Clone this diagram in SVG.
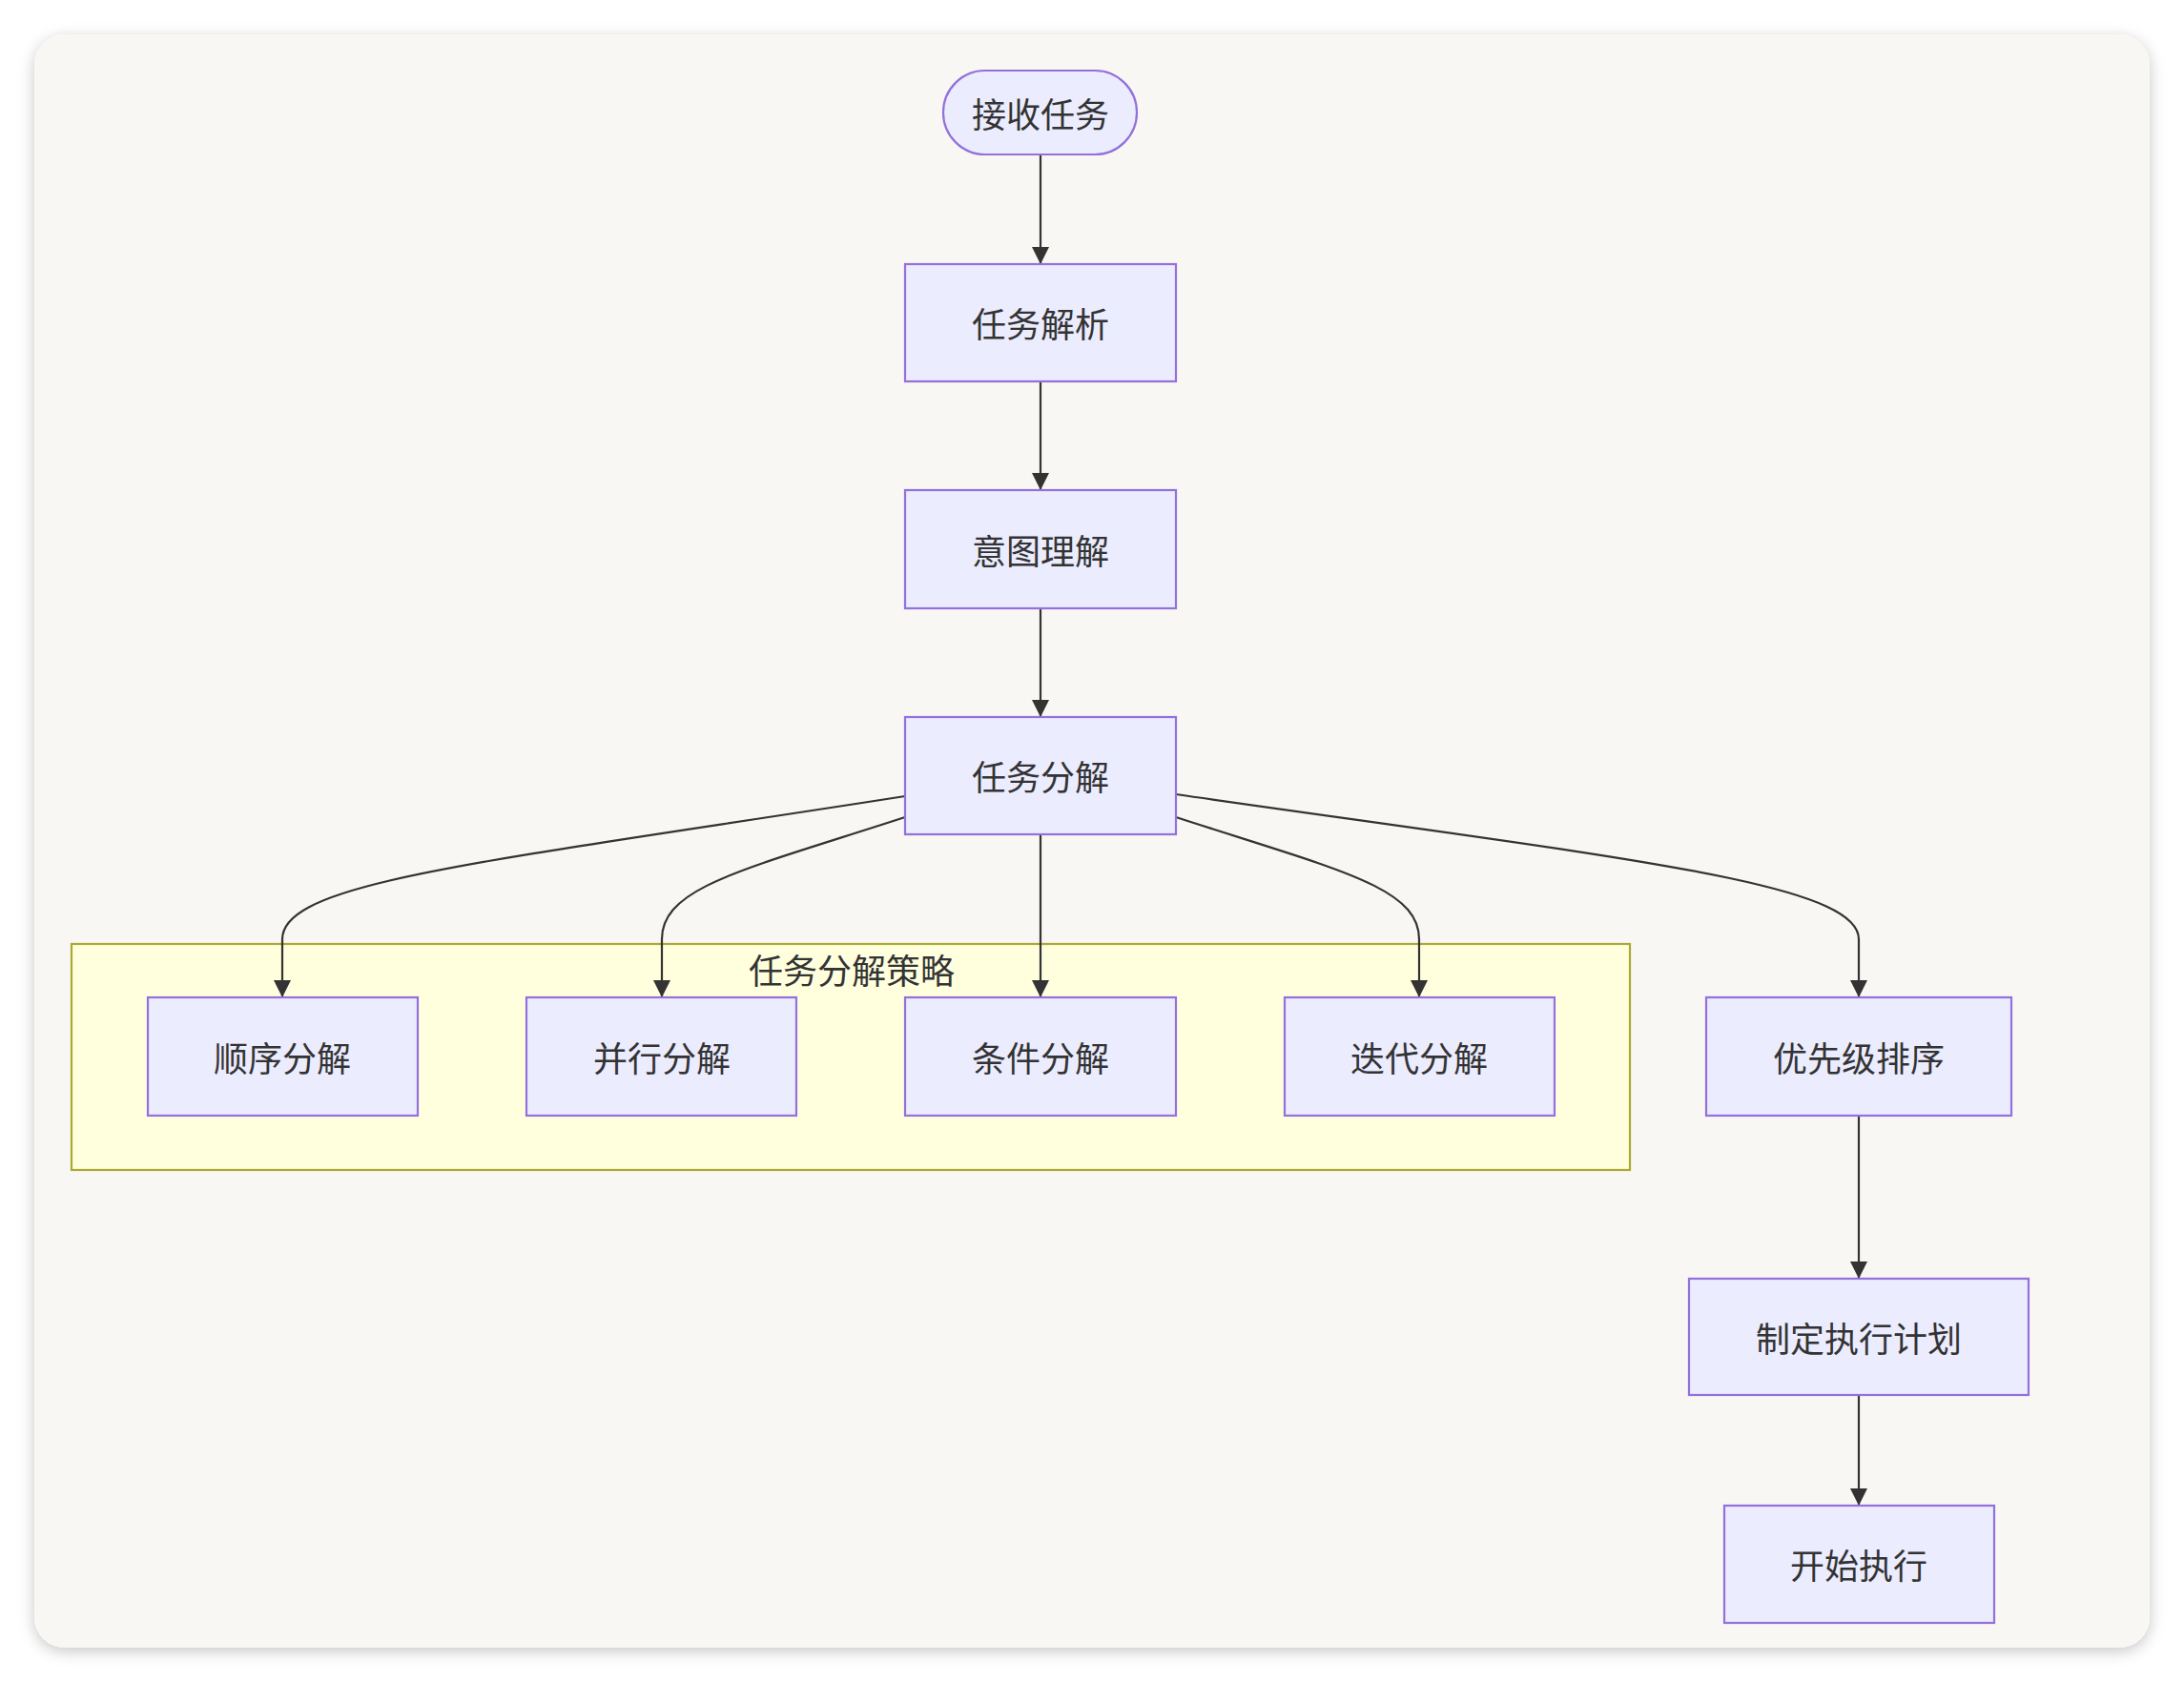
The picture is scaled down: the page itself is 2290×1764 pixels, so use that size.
<svg xmlns="http://www.w3.org/2000/svg" width="2290" height="1764" viewBox="0 0 2290 1764">
<defs>
<filter id="shadow" x="-5%" y="-5%" width="110%" height="110%">
<feDropShadow dx="0" dy="4" stdDeviation="8" flood-color="#000" flood-opacity="0.22"/>
</filter>
<marker id="arrow" markerUnits="userSpaceOnUse" markerWidth="18" markerHeight="18" refX="18" refY="9" orient="auto">
<path d="M0,0 L18,9 L0,18 z" fill="#333333"/>
</marker>
</defs>
<style>
.node rect{fill:#ECECFF;stroke:#9370DB;stroke-width:2.2}
.label{font-family:"Noto Sans CJK SC","Noto Sans",sans-serif;font-size:36px;fill:#333333;text-anchor:middle;dominant-baseline:central}
.edge{fill:none;stroke:#333333;stroke-width:2.2;marker-end:url(#arrow)}
.cluster rect{fill:#FFFFDE;stroke:#AAAA33;stroke-width:2.2}
</style>
<rect width="2290" height="1764" fill="#FFFFFF"/>
<rect x="36" y="36" width="2218" height="1692" rx="32" fill="#F8F7F3" filter="url(#shadow)"/>

<g id="cluster-strategy" class="cluster">
<rect x="75" y="990" width="1634" height="237"/>
<text class="label" x="893" y="1016">任务分解策略</text>
</g>

<g id="connectors">
<path class="edge" d="M1091,162 L1091,277"/>
<path class="edge" d="M1091,400 L1091,514"/>
<path class="edge" d="M1091,638 L1091,752"/>
<path class="edge" d="M949,835 C500,905 296,925 296,985 L296,1046"/>
<path class="edge" d="M949,857 C780,912 694,930 694,985 L694,1046"/>
<path class="edge" d="M1091,875 L1091,1046"/>
<path class="edge" d="M1233,857 C1402,912 1488,930 1488,985 L1488,1046"/>
<path class="edge" d="M1233,833 C1700,900 1949,925 1949,985 L1949,1046"/>
<path class="edge" d="M1949,1170 L1949,1341"/>
<path class="edge" d="M1949,1463 L1949,1579"/>
</g>

<g id="node-receive" class="node">
<rect x="989" y="74" width="203" height="88" rx="44" ry="44"/>
<text class="label" x="1091" y="118">接收任务</text>
</g>
<g id="node-parse" class="node">
<rect x="949" y="277" width="284" height="123"/>
<text class="label" x="1091" y="338">任务解析</text>
</g>
<g id="node-intent" class="node">
<rect x="949" y="514" width="284" height="124"/>
<text class="label" x="1091" y="576">意图理解</text>
</g>
<g id="node-decompose" class="node">
<rect x="949" y="752" width="284" height="123"/>
<text class="label" x="1091" y="813">任务分解</text>
</g>
<g id="node-seq" class="node">
<rect x="155" y="1046" width="283" height="124"/>
<text class="label" x="296" y="1108">顺序分解</text>
</g>
<g id="node-par" class="node">
<rect x="552" y="1046" width="283" height="124"/>
<text class="label" x="694" y="1108">并行分解</text>
</g>
<g id="node-cond" class="node">
<rect x="949" y="1046" width="284" height="124"/>
<text class="label" x="1091" y="1108">条件分解</text>
</g>
<g id="node-iter" class="node">
<rect x="1347" y="1046" width="283" height="124"/>
<text class="label" x="1488" y="1108">迭代分解</text>
</g>
<g id="node-priority" class="node">
<rect x="1789" y="1046" width="320" height="124"/>
<text class="label" x="1949" y="1108">优先级排序</text>
</g>
<g id="node-plan" class="node">
<rect x="1771" y="1341" width="356" height="122"/>
<text class="label" x="1949" y="1402">制定执行计划</text>
</g>
<g id="node-start" class="node">
<rect x="1808" y="1579" width="283" height="123"/>
<text class="label" x="1949" y="1640">开始执行</text>
</g>
</svg>
